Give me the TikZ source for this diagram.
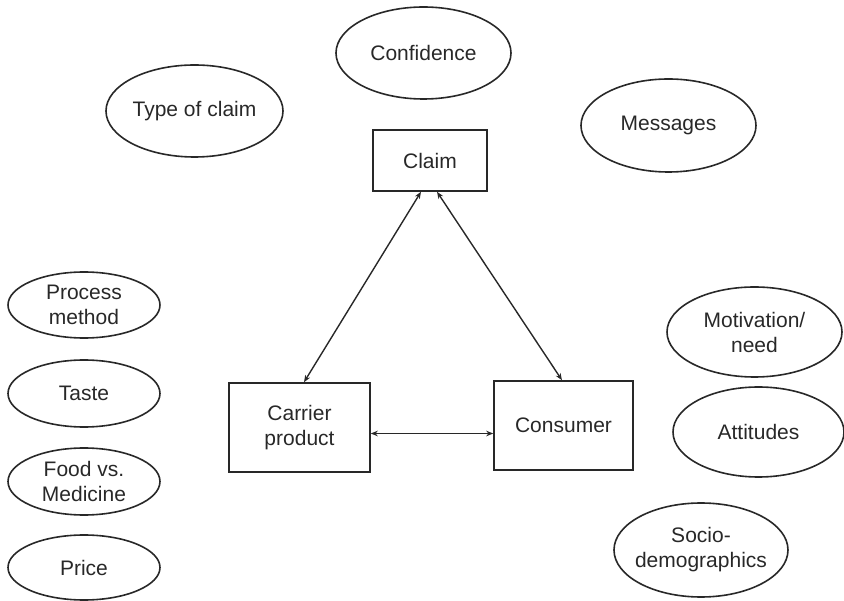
\documentclass[tikz,border=0pt]{standalone}
\usepackage{fontspec}
\setmainfont{Liberation Sans}
\usetikzlibrary{shapes.geometric,arrows.meta}
\definecolor{ink}{RGB}{40,40,40}
\begin{document}
\begin{tikzpicture}[x=1pt,y=-1pt,
  every node/.style={font=\fontsize{21}{25}\selectfont,text=ink},
  oval/.style={ellipse,draw=ink,line width=1.6pt,inner sep=0pt},
  box/.style={rectangle,draw=ink,line width=1.6pt,inner sep=0pt,align=center},
  conn/.style={draw=ink,line width=1.4pt,{Stealth[length=7pt,width=5.5pt]}-{Stealth[length=7pt,width=5.5pt]}}]
\useasboundingbox (0,0) rectangle (844,601);
% top ellipses
\node[oval,minimum width=175pt,minimum height=92pt,label={center:Confidence}] (conf) at (423.5,53) {};
\node[oval,minimum width=177pt,minimum height=92pt,label={center:Type of claim}] (type) at (194.5,111) {};
\node[oval,minimum width=175pt,minimum height=93pt,label={center:Messages}] (msg) at (668.5,125.5) {};
% left ellipses
\node[oval,minimum width=152pt,minimum height=66pt,label={[align=center]center:Process\\method}] (proc) at (84,305) {};
\node[oval,minimum width=152pt,minimum height=67pt,label={center:Taste}] (taste) at (84,393.5) {};
\node[oval,minimum width=152pt,minimum height=67pt,label={[align=center]center:Food vs.\\Medicine}] (food) at (84,481.5) {};
\node[oval,minimum width=152pt,minimum height=65pt,label={center:Price}] (price) at (84,567.5) {};
% right ellipses
\node[oval,minimum width=175pt,minimum height=90pt,label={[align=center]center:Motivation/\\need}] (motiv) at (754.5,332) {};
\node[oval,minimum width=171pt,minimum height=90pt,label={center:Attitudes}] (att) at (758.5,432) {};
\node[oval,minimum width=174pt,minimum height=94pt,label={[align=center]center:Socio-\\demographics}] (socio) at (701,550) {};
% boxes
\node[box,minimum width=114pt,minimum height=61pt] (claim) at (430,160.5) {Claim};
\node[box,minimum width=141pt,minimum height=89pt] (carrier) at (299.5,427.5) {Carrier\\product};
\node[box,minimum width=139pt,minimum height=89pt] (consumer) at (563.5,425.5) {Consumer};
% connectors
\draw[conn] ([xshift=-9pt]claim.south) -- ([xshift=4.5pt]carrier.north);
\draw[conn] ([xshift=7pt]claim.south) -- ([xshift=-1.5pt]consumer.north);
\draw[conn] ([yshift=-6pt]carrier.east) -- ([yshift=-6pt]carrier.east -| consumer.west);
\end{tikzpicture}
\end{document}
